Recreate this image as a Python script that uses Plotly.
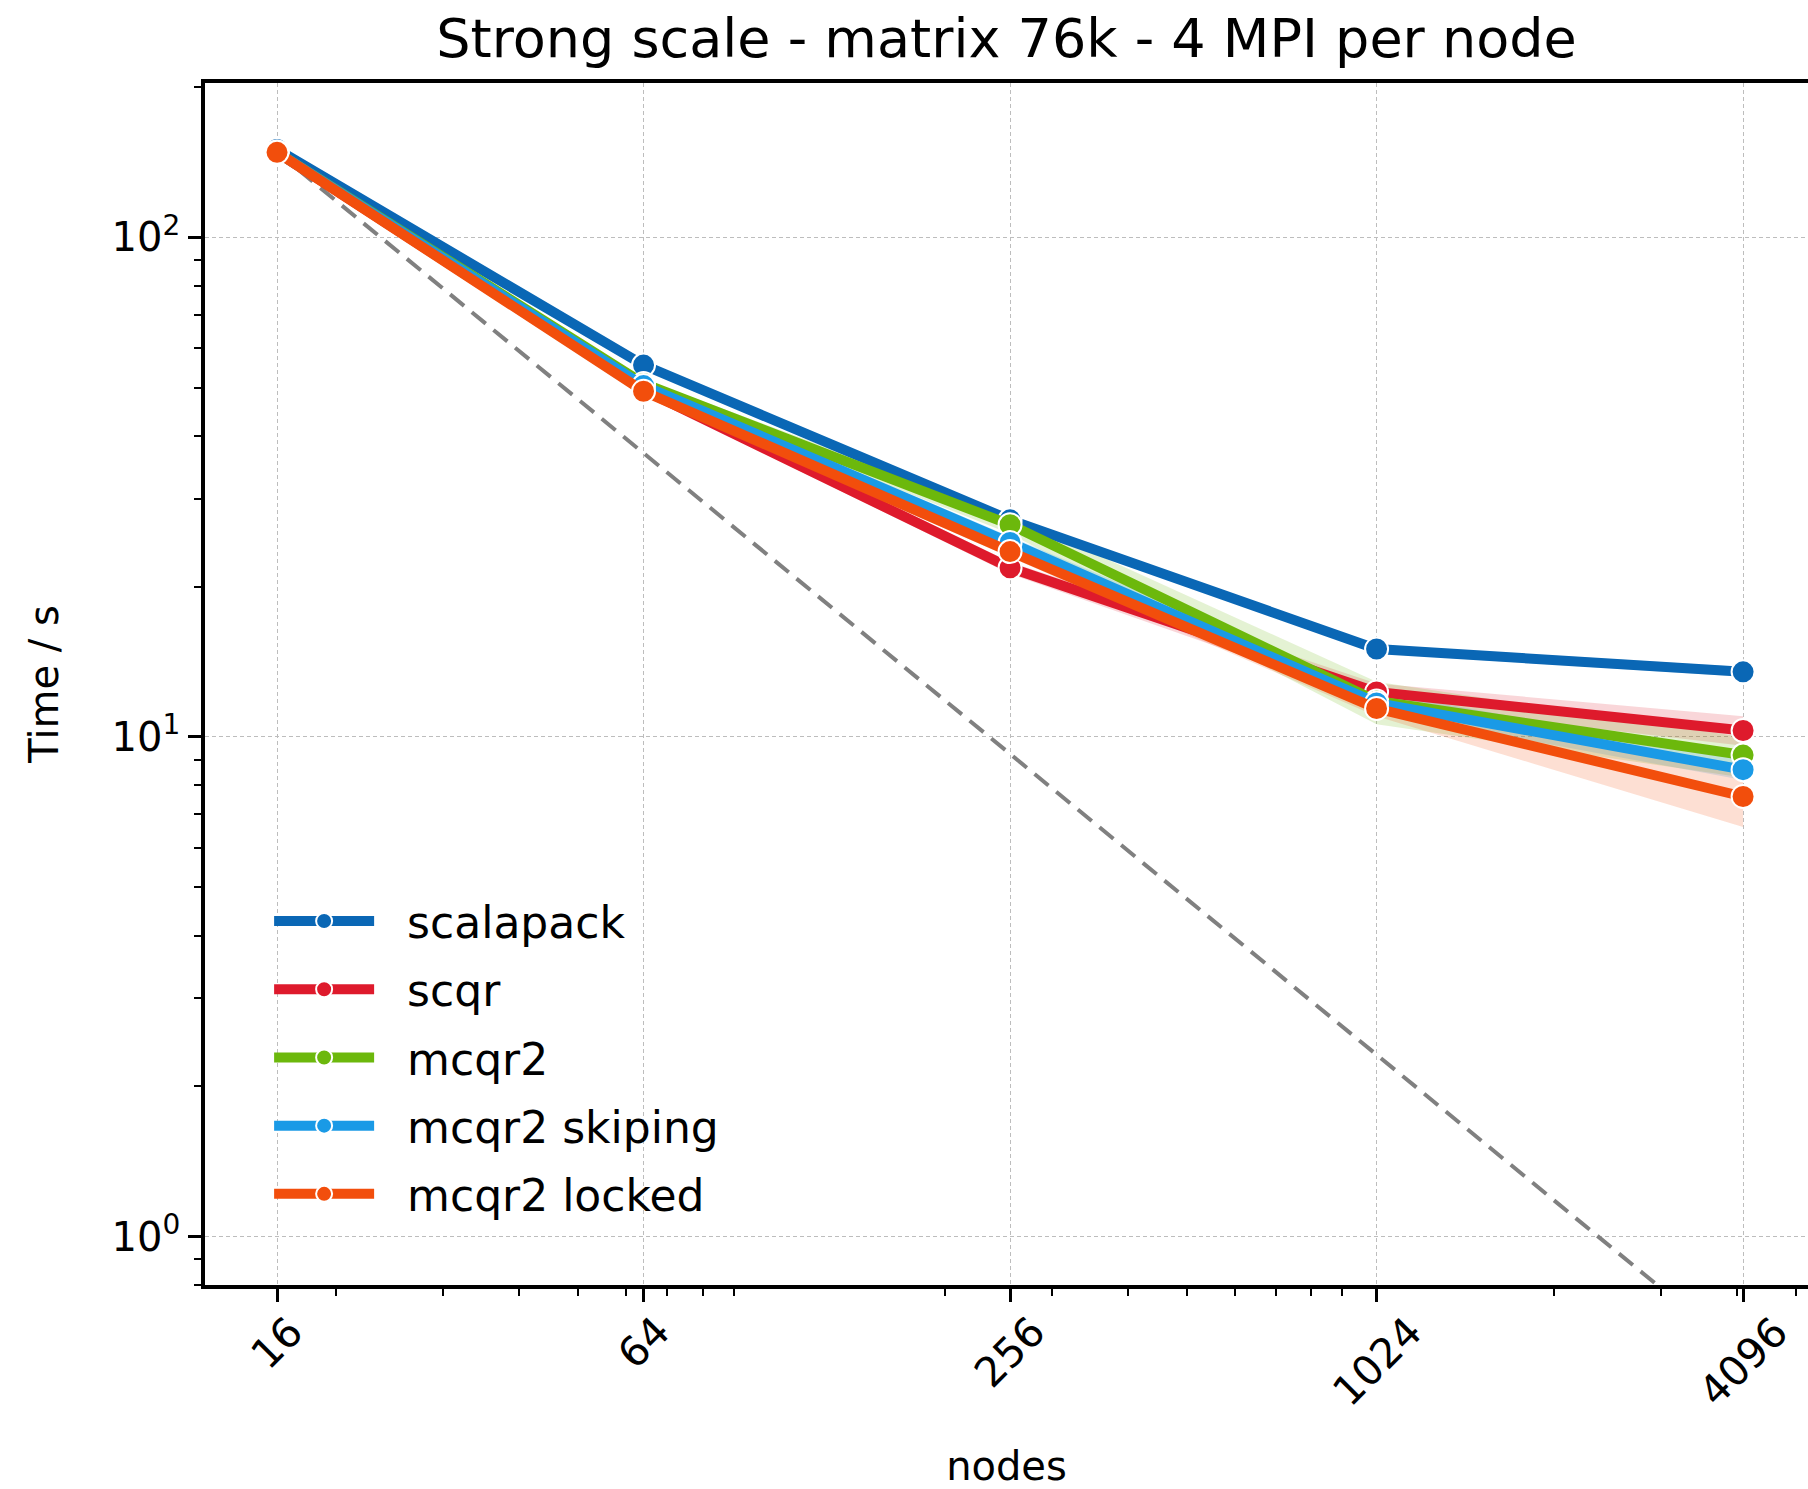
import math
import plotly.graph_objects as go

# Node counts and timings (seconds) per solver
nodes = [16, 64, 256, 1024, 4096]
node_labels = ["16", "64", "256", "1024", "4096"]

scalapack = [150.0, 55.5, 27.2, 15.0, 13.5]
scalapack_lo = [147.0, 54.5, 26.7, 14.7, 13.2]
scalapack_hi = [153.0, 56.5, 27.7, 15.3, 13.8]

scqr = [148.0, 49.5, 21.8, 12.3, 10.3]
scqr_lo = [145.0, 48.5, 21.2, 11.7, 9.6]
scqr_hi = [151.0, 50.5, 22.4, 12.8, 11.0]

mcqr2 = [148.0, 51.0, 26.6, 11.8, 9.2]
mcqr2_lo = [145.0, 50.0, 25.5, 10.6, 8.3]
mcqr2_hi = [151.0, 52.0, 27.8, 12.9, 10.0]

mcqr2_skiping = [148.0, 50.5, 24.5, 11.7, 8.6]
mcqr2_skiping_lo = [145.0, 49.5, 23.8, 11.2, 8.2]
mcqr2_skiping_hi = [151.0, 51.5, 25.2, 12.3, 9.1]

mcqr2_locked = [148.0, 49.2, 23.5, 11.4, 7.6]
mcqr2_locked_lo = [145.0, 48.2, 22.9, 11.0, 6.6]
mcqr2_locked_hi = [151.0, 50.2, 24.1, 11.9, 8.6]

# Ideal strong-scaling reference
ideal_time = [148.0, 37.0, 9.25, 2.31, 0.578]

series_names = ["scalapack", "scqr", "mcqr2", "mcqr2 skiping", "mcqr2 locked"]
series_colors = ["#0a67b5", "#de1a2c", "#6cb80c", "#1a9ae6", "#f24e0c"]
band_fills = ["rgba(10,103,181,0.18)", "rgba(222,26,44,0.18)", "rgba(108,184,12,0.18)",
              "rgba(26,154,230,0.18)", "rgba(242,78,12,0.18)"]

series = [
    (scalapack, scalapack_lo, scalapack_hi),
    (scqr, scqr_lo, scqr_hi),
    (mcqr2, mcqr2_lo, mcqr2_hi),
    (mcqr2_skiping, mcqr2_skiping_lo, mcqr2_skiping_hi),
    (mcqr2_locked, mcqr2_locked_lo, mcqr2_locked_hi),
]

x_minor = [20, 30, 40, 50, 60, 70, 80, 90,
           200, 300, 400, 500, 600, 700, 800, 900,
           2000, 3000, 4000, 5000]
y_major = [1, 10, 100]
y_major_text = ["10<sup>0</sup>", "10<sup>1</sup>", "10<sup>2</sup>"]
y_minor = [0.8, 0.9, 2, 3, 4, 5, 6, 7, 8, 9, 20, 30, 40, 50, 60, 70, 80, 90, 200]

FONT = "DejaVu Sans"

fig = go.Figure()

# Confidence bands
for (vals, lo, hi), fill in zip(series, band_fills):
    fig.add_trace(go.Scatter(
        x=nodes + nodes[::-1], y=hi + lo[::-1],
        fill="toself", fillcolor=fill, line=dict(width=0),
        mode="lines", hoverinfo="skip", showlegend=False,
    ))

# Ideal scaling line
fig.add_trace(go.Scatter(
    x=nodes, y=ideal_time, mode="lines",
    line=dict(color="#808080", width=4, dash="18px,10px"),
    showlegend=False, hoverinfo="skip",
))

# Solver timings
for (vals, lo, hi), name, color in zip(series, series_names, series_colors):
    fig.add_trace(go.Scatter(
        x=nodes, y=vals, name="\u00a0\u00a0" + name, mode="lines+markers",
        legendgroup=name,
        line=dict(color=color, width=10),
        marker=dict(size=23, color=color, line=dict(color="white", width=2)),
    ))

# Rotated x tick labels centred under their ticks (log axis -> log10 position)
for n, lab in zip(nodes, node_labels):
    fig.add_annotation(
        x=math.log10(n), y=0, xref="x", yref="paper", yshift=-20,
        text=lab, showarrow=False, textangle=-45,
        xanchor="center", yanchor="top",
        font=dict(family=FONT, size=41, color="black"),
    )

fig.update_layout(
    width=1808, height=1489,
    margin=dict(l=205, r=0, t=83, b=204),
    paper_bgcolor="white", plot_bgcolor="white",
    font=dict(family=FONT, size=40, color="black"),
    title=dict(text="Strong scale - matrix 76k - 4 MPI per node",
               x=0.5, xref="paper", xanchor="center",
               y=1 - 38 / 1489, yref="container", yanchor="middle",
               font=dict(family=FONT, size=54, color="black")),
    legend=dict(
        x=0.04, y=0.332, xanchor="left", yanchor="top",
        bgcolor="rgba(0,0,0,0)", borderwidth=0,
        font=dict(family=FONT, size=44, color="black"),
        itemwidth=100, tracegroupgap=8,
    ),
    showlegend=True,
)

fig.update_xaxes(
    type="log", range=[1.0858, 3.719],
    tickmode="array", tickvals=nodes, ticktext=node_labels,
    showticklabels=False,
    ticks="outside", ticklen=13, tickwidth=2.5, tickcolor="black",
    showline=True, linecolor="black", linewidth=3.5, mirror=True,
    showgrid=True, gridcolor="#bdbdbd", gridwidth=1.3, griddash="4px,3px",
    zeroline=False,
    minor=dict(tickmode="array", tickvals=x_minor, ticks="outside",
               ticklen=7, tickwidth=2, tickcolor="black", showgrid=False),
    title=dict(text="nodes", standoff=158,
               font=dict(family=FONT, size=40, color="black")),
)

fig.update_yaxes(
    type="log", range=[-0.097, 2.309],
    tickmode="array", tickvals=y_major, ticktext=y_major_text,
    ticks="outside", ticklen=13, tickwidth=2.5, tickcolor="black",
    tickfont=dict(family=FONT, size=40, color="black"),
    showline=True, linecolor="black", linewidth=3.5, mirror=False,
    showgrid=True, gridcolor="#bdbdbd", gridwidth=1.3, griddash="4px,3px",
    zeroline=False,
    minor=dict(tickmode="array", tickvals=y_minor, ticks="outside",
               ticklen=7, tickwidth=2, tickcolor="black", showgrid=False),
    title=dict(text="Time / s", standoff=42,
               font=dict(family=FONT, size=40, color="black")),
)

fig.write_html("out.html")
